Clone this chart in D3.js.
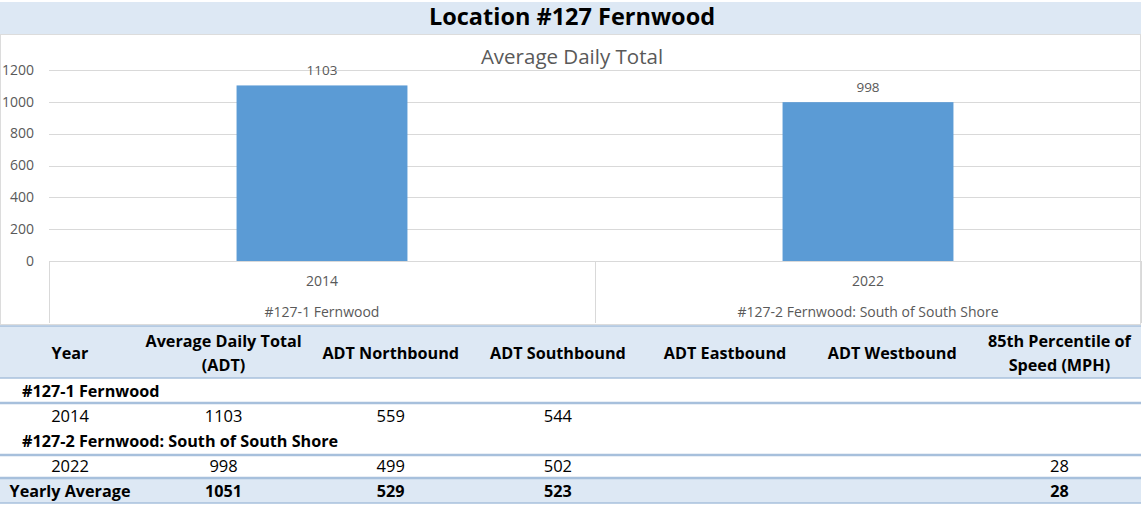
<!DOCTYPE html>
<html>
<head>
<meta charset="utf-8">
<script src="https://cdn.jsdelivr.net/npm/d3@7"></script>
<style>
  body { margin: 0; background: #fff; }
  text { font-family: "Open Sans", "Noto Sans", sans-serif; }
</style>
</head>
<body>
<svg id="chart" width="1143" height="505"></svg>
<script>
// Location #127 Fernwood - ADT chart + summary table

const years = ["2014", "2022"];
const sites = ["#127-1 Fernwood", "#127-2 Fernwood: South of South Shore"];
const adt = [1103, 998];
const northbound = [559, 499];
const southbound = [544, 502];
const eastbound = [null, null];
const westbound = [null, null];
const speed85 = [null, 28];
const yearlyAverage = [1051, 529, 523, null, null, 28];
const yTicks = [0, 200, 400, 600, 800, 1000, 1200];
const headers = [
    ["Average Daily Total", "(ADT)"],
    ["ADT Northbound"],
    ["ADT Southbound"],
    ["ADT Eastbound"],
    ["ADT Westbound"],
    ["85th Percentile of", "Speed (MPH)"]
];

const svg = d3.select("#chart");
const blueBand = "#dde8f4";
const ruleBlue = "#a7c0dc";
const gray = "#595959";

// title band
svg.append("rect").attr("x", 0).attr("y", 2).attr("width", 1141).attr("height", 32).attr("fill", blueBand);
svg.append("text")
    .attr("x", 572).attr("y", 19)
    .attr("text-anchor", "middle").attr("dominant-baseline", "middle")
    .attr("font-size", "23.5px").attr("font-weight", "bold").attr("fill", "#000")
    .text("Location #127 Fernwood");

// chart box
svg.append("rect").attr("x", 0.5).attr("y", 34.5).attr("width", 1140).attr("height", 290)
    .attr("fill", "#fff").attr("stroke", "#dcdcdc");

svg.append("text")
    .attr("x", 572).attr("y", 59)
    .attr("text-anchor", "middle").attr("dominant-baseline", "middle")
    .attr("font-size", "20.5px").attr("fill", gray)
    .text("Average Daily Total");

const x = d3.scaleBand().domain(years).range([49, 1141]).padding(0);
const y = d3.scaleLinear().domain([0, 1200]).range([261, 70]);
const barW = x.bandwidth() * 0.313;

// gridlines
svg.selectAll("line.grid")
    .data(yTicks)
    .enter()
    .append("line")
    .attr("class", "grid")
    .attr("x1", 49).attr("x2", 1141)
    .attr("y1", d => Math.round(y(d)) + 0.5).attr("y2", d => Math.round(y(d)) + 0.5)
    .attr("stroke", "#d9d9d9");

// y tick labels
svg.selectAll("text.ytick")
    .data(yTicks)
    .enter()
    .append("text")
    .attr("class", "ytick")
    .attr("x", 34).attr("y", d => y(d) + 1)
    .attr("text-anchor", "end").attr("dominant-baseline", "middle")
    .attr("font-size", "14px").attr("fill", gray)
    .text(d => d);

// bars
svg.selectAll("rect.bar")
    .data(adt)
    .enter()
    .append("rect")
    .attr("class", "bar")
    .attr("x", (d, i) => x(years[i]) + (x.bandwidth() - barW) / 2)
    .attr("y", d => y(d))
    .attr("width", barW)
    .attr("height", d => y(0) - y(d))
    .attr("fill", "#5b9bd5");

// value labels
svg.selectAll("text.value")
    .data(adt)
    .enter()
    .append("text")
    .attr("class", "value")
    .attr("x", (d, i) => x(years[i]) + x.bandwidth() / 2)
    .attr("y", d => y(d) - 14)
    .attr("text-anchor", "middle").attr("dominant-baseline", "middle")
    .attr("font-size", "13.5px").attr("fill", gray)
    .text(d => d);

// category separators
const seps = [x(years[0]), x(years[1]), 1141];
svg.selectAll("line.sep")
    .data(seps)
    .enter()
    .append("line")
    .attr("class", "sep")
    .attr("x1", d => Math.round(d) + 0.5).attr("x2", d => Math.round(d) + 0.5)
    .attr("y1", 261).attr("y2", 323)
    .attr("stroke", "#d9d9d9");

svg.selectAll("text.year")
    .data(years)
    .enter()
    .append("text")
    .attr("class", "year")
    .attr("x", d => x(d) + x.bandwidth() / 2).attr("y", 282)
    .attr("text-anchor", "middle").attr("dominant-baseline", "middle")
    .attr("font-size", "14px").attr("fill", gray)
    .text(d => d);

svg.selectAll("text.site")
    .data(sites)
    .enter()
    .append("text")
    .attr("class", "site")
    .attr("x", (d, i) => x(years[i]) + x.bandwidth() / 2).attr("y", 313)
    .attr("text-anchor", "middle").attr("dominant-baseline", "middle")
    .attr("font-size", "14px").attr("fill", gray)
    .text(d => d);

// ---- table ----
const colX = d3.scaleBand().domain(d3.range(headers.length)).range([140, 1143]);
const colC = i => colX(i) + colX.bandwidth() / 2;
const yearC = 70;

svg.append("rect").attr("x", 0).attr("y", 326).attr("width", 1141).attr("height", 52).attr("fill", blueBand);
svg.append("rect").attr("x", 0).attr("y", 479).attr("width", 1141).attr("height", 24).attr("fill", blueBand);

[326, 378, 403, 455, 478, 503].forEach(ly => {
    svg.append("line")
        .attr("x1", 0).attr("x2", 1141).attr("y1", ly).attr("y2", ly)
        .attr("stroke", ruleBlue).attr("stroke-width", ly === 326 || ly === 378 || ly === 503 ? 1.5 : 2.5);
});

function cell(cx, cy, txt, bold, anchor) {
    svg.append("text")
        .attr("x", cx).attr("y", cy + 2)
        .attr("text-anchor", anchor || "middle").attr("dominant-baseline", "middle")
        .attr("font-size", bold ? "16.2px" : "16.5px")
        .attr("font-weight", bold ? "bold" : "normal")
        .attr("fill", "#000")
        .text(txt);
}

cell(yearC, 353, "Year", true);
headers.forEach((h, i) => {
    if (h.length === 1) cell(colC(i), 353, h[0], true);
    else { cell(colC(i), 341, h[0], true); cell(colC(i), 365, h[1], true); }
});

const rowsY = [[391, 416], [441, 466]];
years.forEach((yr, k) => {
    cell(22, rowsY[k][0], sites[k], true, "start");
    cell(yearC, rowsY[k][1], yr, false);
    const vals = [adt[k], northbound[k], southbound[k], eastbound[k], westbound[k], speed85[k]];
    vals.forEach((v, i) => { if (v != null) cell(colC(i), rowsY[k][1], v, false); });
});

cell(yearC, 491, "Yearly Average", true);
yearlyAverage.forEach((v, i) => { if (v != null) cell(colC(i), 491, v, true); });
</script>
</body>
</html>
